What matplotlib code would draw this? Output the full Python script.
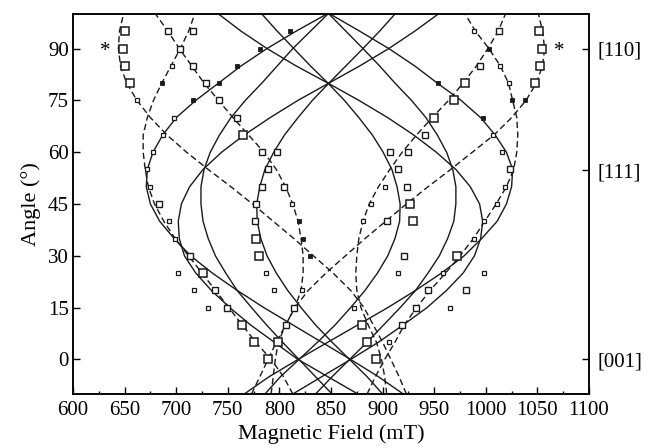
import numpy as np
import matplotlib.pyplot as plt

plt.rcParams['font.family'] = ['Liberation Serif', 'DejaVu Serif']
plt.rcParams['mathtext.fontset'] = 'stix'

# 각도 (deg) - 모든 이론 곡선 공통
angle = [-10, -5, 0, 5, 10, 15, 20, 25, 30, 35, 40, 45, 50,
         55, 60, 65, 70, 75, 80, 85, 90, 95, 100]

# 실선 이론 곡선 (mT)
solid_1 = [920, 896, 869, 841, 813, 785, 759, 735, 714, 698, 684, 675, 671,
           672, 677.5, 687, 700, 719, 741, 763, 788, 816, 846]
solid_2 = [813, 841, 869, 896, 920, 943, 962, 978, 989, 995, 997, 994, 985,
           971, 952, 930, 905, 877, 847, 816, 788, 763, 741]
solid_3 = [766, 790, 818, 847, 876, 905, 932, 957, 979, 996, 1011, 1020, 1025,
           1026, 1020, 1009, 995, 976, 953, 931, 906, 878, 849]
solid_4 = [876, 847, 818, 795, 772, 752, 734, 719, 708, 703, 702, 705, 713,
           726, 744, 766, 791, 818, 848, 878, 906, 931, 954]
solid_5 = [900, 885, 868, 851, 835, 821, 808, 797, 788, 782, 778.5, 778, 781,
           786, 794.5, 805, 818, 832, 848, 864.5, 881, 897, 912]
solid_6 = [835, 851, 868, 885, 901, 917, 932, 944, 955, 963, 969, 971, 971,
           968, 962, 953, 942, 928, 912, 897, 881, 864.5, 848]
solid_7 = [851, 835, 819, 803, 787.5, 773, 759, 748, 738, 731, 726, 724, 724,
           727, 733, 742, 753, 767, 783, 798, 813, 830, 847]
solid_8 = [786, 801, 819, 837, 854, 869, 883, 895, 905, 912, 916.5, 917, 914,
           909, 900.5, 890, 877, 863, 847, 830, 814, 798, 783]

# 점선 이론 곡선 (mT)
dash_1 = [923, 916, 908, 900, 891, 882, 869, 852, 833, 814, 794, 774, 753,
          731, 710, 691, 675, 662, 652, 646, 644, 645, 649]
dash_2 = [773, 781, 789, 797, 806, 815, 828, 845, 864, 883, 903, 923, 944,
          966, 987, 1008, 1025, 1039, 1049, 1055, 1057, 1055, 1051]
dash_3 = [792, 794, 796, 799, 806, 815, 821, 823, 823, 821, 818, 813, 806,
          797, 785, 770, 755, 741, 727, 715, 703, 692, 680]
dash_4 = [904, 902, 899, 894, 886, 879, 875, 874, 875, 877, 881, 887, 896,
          907, 919, 933, 948, 964, 978, 991, 1002, 1012, 1019]
dash_5 = [813, 804, 792, 777, 764, 751, 738, 725, 712, 699, 688, 679, 673,
          670, 668, 668, 672, 678, 686, 695, 704, 712, 718]
dash_6 = [885, 893, 902, 912, 921, 933, 946, 961, 975, 988, 999, 1010, 1020,
          1027, 1030, 1031, 1030, 1026, 1022, 1014, 1003, 990, 980]

# 실험값 (각도, 자기장) - 점 크기 별로 나눔
big_ang = [95, 95, 90, 90, 85, 85, 80, 80, 80, 75, 70, 65, 45, 40, 35, 30, 30,
           25, 10, 10, 5, 5, 5, 0, 0]
big_fld = [650, 1052, 648, 1054, 650, 1053, 655, 980, 1048, 969, 950, 765,
           927, 929, 777, 780, 972, 726, 764, 880, 775, 799, 885, 789, 894]

mid_ang = [95, 95, 95, 90, 85, 85, 80, 75, 70, 65, 60, 60, 60, 60, 55, 55, 55,
           50, 50, 50, 45, 45, 40, 40, 30, 30, 20, 20, 20, 15, 15, 15, 10, 10]
mid_fld = [692, 716, 1013, 704, 716, 994, 729, 741, 759, 941, 783, 798, 907,
           925, 789, 915, 1023, 783, 804.5, 924, 683, 777, 776, 904, 713, 921,
           738, 944, 980.5, 749, 814.5, 932, 806, 919]

small_ang = [95, 85, 85, 80, 75, 70, 65, 65, 60, 60, 55, 50, 50, 50, 45, 45,
             45, 40, 40, 40, 35, 35, 25, 25, 25, 25, 25, 20, 20, 20, 15, 15,
             15, 5]
small_fld = [989, 696, 1014, 1022, 662, 698, 687, 1007, 678, 1016, 672, 675,
             902, 1019, 812.5, 889, 1011, 693, 881, 998, 699, 989, 702, 787,
             915, 959, 998, 717, 795, 822, 730.5, 872, 965, 906]

dot_ang = [95, 90, 90, 85, 80, 80, 80, 75, 75, 75, 70, 40, 35, 30]
dot_fld = [810, 781, 1003, 759, 686, 741, 954, 716, 1025, 1038, 997, 819,
           822.5, 830]

fig = plt.figure(figsize=(6.48, 4.48), dpi=100)
ax = fig.add_axes([73 / 648, 1 - 394 / 448, 516 / 648, 380 / 448])

lc = '#1a1a1a'
for s in [solid_1, solid_2, solid_3, solid_4, solid_5, solid_6, solid_7, solid_8]:
    ax.plot(s, angle, color=lc, lw=1.0, zorder=2)
for s in [dash_1, dash_2, dash_3, dash_4, dash_5, dash_6]:
    ax.plot(s, angle, color=lc, lw=1.0, ls=(0, (4.5, 2.5)), zorder=2)

mk = dict(ls='none', marker='s', mfc='white', mec='#1a1a1a', zorder=3)
ax.plot(big_fld, big_ang, ms=5.6, mew=1.1, **mk)
ax.plot(mid_fld, mid_ang, ms=4.3, mew=1.0, **mk)
ax.plot(small_fld, small_ang, ms=3.2, mew=0.9, **mk)
ax.plot(dot_fld, dot_ang, ls='none', marker='s', ms=2.2, mfc='#1a1a1a',
        mec='#1a1a1a', mew=0.6, zorder=3)

# 별표 표시
ax.text(631, 89, '*', fontsize=15, ha='center', va='center')
ax.text(1071, 89, '*', fontsize=15, ha='center', va='center')

ax.set_xlim(600, 1100)
ax.set_ylim(-10, 100)
ax.set_xticks(range(600, 1101, 50))
ax.set_xticks(range(625, 1100, 50), minor=True)
ax.set_yticks([0, 15, 30, 45, 60, 75, 90])
ax.tick_params(axis='both', which='major', direction='in', length=5, width=1,
               labelsize=15, top=False, right=False)
ax.tick_params(axis='x', which='minor', direction='in', length=2.5, width=1,
               top=False)
ax.tick_params(axis='x', pad=5)
ax.tick_params(axis='y', pad=3)
for sp in ax.spines.values():
    sp.set_linewidth(1.1)

ax.set_xlabel('Magnetic Field (mT)', fontsize=16, labelpad=3)
ax.set_ylabel('Angle (°)', fontsize=16, labelpad=5)

# 오른쪽 결정 방향 표시
ax2 = ax.twinx()
ax2.set_ylim(-10, 100)
ax2.set_yticks([0, 54.74, 90])
ax2.set_yticklabels(['[001]', '[111]', '[110]'])
ax2.tick_params(axis='y', direction='in', length=5, width=1, labelsize=15,
                pad=6)
for sp in ax2.spines.values():
    sp.set_linewidth(1.1)

fig.savefig('out.png', dpi=100)
